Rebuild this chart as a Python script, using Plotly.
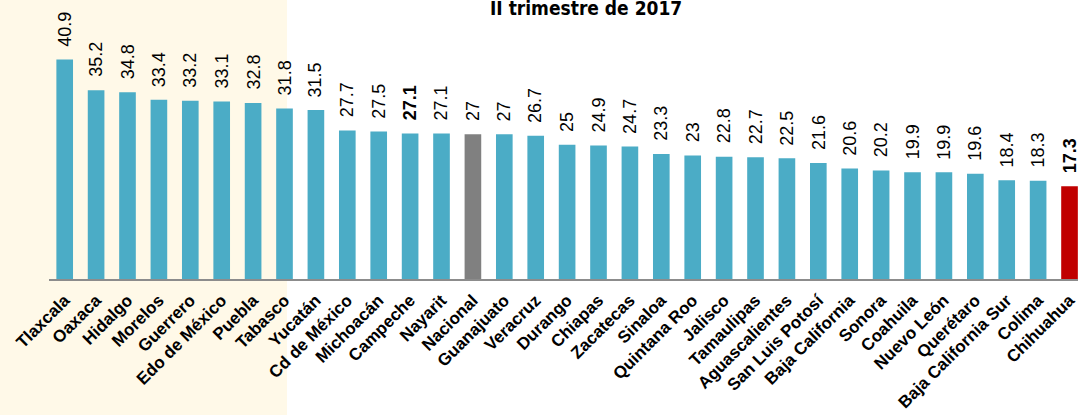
import plotly.graph_objects as go

states = ["Tlaxcala", "Oaxaca", "Hidalgo", "Morelos", "Guerrero", "Edo de México", "Puebla",
          "Tabasco", "Yucatán", "Cd de México", "Michoacán", "Campeche", "Nayarit", "Nacional",
          "Guanajuato", "Veracruz", "Durango", "Chiapas", "Zacatecas", "Sinaloa", "Quintana Roo",
          "Jalisco", "Tamaulipas", "Aguascalientes", "San Luis Potosí", "Baja California",
          "Sonora", "Coahuila", "Nuevo León", "Querétaro", "Baja California Sur", "Colima",
          "Chihuahua"]
values = [40.9, 35.2, 34.8, 33.4, 33.2, 33.1, 32.8, 31.8, 31.5, 27.7, 27.5, 27.1, 27.1, 27,
          27, 26.7, 25, 24.9, 24.7, 23.3, 23, 22.8, 22.7, 22.5, 21.6, 20.6, 20.2, 19.9, 19.9,
          19.6, 18.4, 18.3, 17.3]
bold_labels = ["Campeche", "Chihuahua"]
title_text = "II trimestre de 2017"

colors = []
for s in states:
    if s == "Nacional":
        colors.append("#808080")
    elif s == "Chihuahua":
        colors.append("#C00000")
    else:
        colors.append("#4BACC6")

fig = go.Figure()
fig.add_trace(go.Bar(x=states, y=values, marker=dict(color=colors, line=dict(width=0)),
                     hoverinfo="x+y"))

annotations = []
for s, v in zip(states, values):
    txt = f"{v:g}"
    if s in bold_labels:
        txt = f"<b>{txt}</b>"
    annotations.append(dict(x=s, y=v, xref="x", yref="y", text=txt, showarrow=False,
                            textangle=-90, yanchor="bottom", xanchor="center", yshift=11,
                            font=dict(family="Liberation Sans, Arial, sans-serif", size=18,
                                      color="#000000")))

annotations.append(dict(text=f"<b>{title_text}</b>", xref="paper", yref="paper",
                        x=(586 - 49) / 1029, y=1.0, xanchor="center", yanchor="bottom",
                        yshift=-21, showarrow=False,
                        font=dict(family="DejaVu Sans Condensed, sans-serif",
                                  size=19, color="#000000")))

fig.update_layout(
    width=1078, height=415,
    margin=dict(l=49, r=0, t=0, b=136, autoexpand=False),
    paper_bgcolor="#FFFFFF",
    plot_bgcolor="rgba(0,0,0,0)",
    showlegend=False,
    bargap=0.47,
    annotations=annotations,
    shapes=[dict(type="rect", xref="paper", yref="paper", x0=-0.0476, x1=0.2313, y0=-0.49, y1=1.0,
                 fillcolor="#FFF9E8", line=dict(width=0), layer="below")],
    xaxis=dict(range=[-0.5, 32.27], showline=True, linecolor="#8C8C8C", linewidth=1.5,
               tickangle=-45, ticks="", ticklabelstandoff=3, automargin=False,
               tickfont=dict(family="Liberation Sans, Arial, sans-serif", size=17, color="#000000",
                             weight="bold"),
               showgrid=False, zeroline=False),
    yaxis=dict(range=[0, 52.0], visible=False, showgrid=False, zeroline=False),
)

fig.write_html("out.html", config={"displayModeBar": False},
               post_script="document.body.style.margin='0';document.body.style.overflow='hidden';")
